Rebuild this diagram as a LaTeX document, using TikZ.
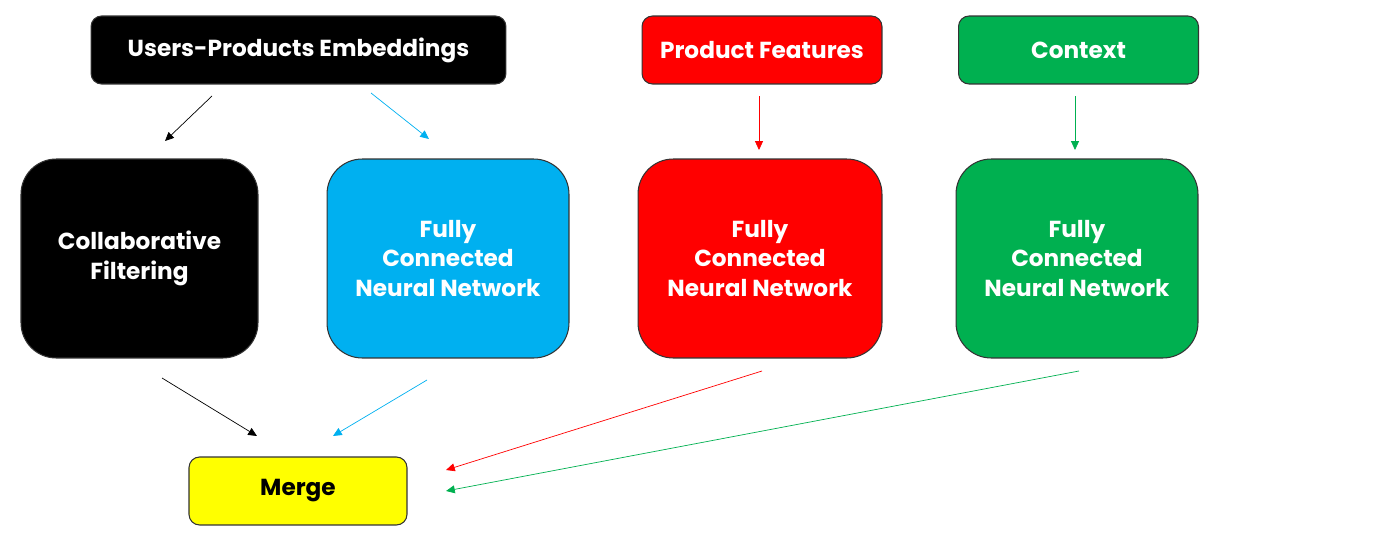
\documentclass[tikz,border=0pt]{standalone}
\usepackage{fontspec}
\setmainfont{Poppins}
\usepackage{xcolor}
\definecolor{cblue}{HTML}{00B0F0}
\definecolor{cred}{HTML}{FF0000}
\definecolor{cgreen}{HTML}{00B050}
\definecolor{cyellow}{HTML}{FFFF00}
\usetikzlibrary{arrows.meta}

\tikzset{
  box/.style={draw=black!80, line width=0.6pt, rounded corners=6pt, text=white,
    font=\fontsize{13.2}{17}\selectfont\bfseries, align=center, inner sep=0pt},
  topbox/.style={box, minimum height=1.36cm},
  bigbox/.style={box, minimum width=4.8cm, minimum height=3.98cm, rounded corners=20pt},
  arr/.style={-{Triangle[length=5pt,width=4.5pt]}, line width=0.4pt},
}

\begin{document}
\begin{tikzpicture}[x=0.02cm, y=-0.02cm]
		\useasboundingbox (0,0) rectangle (1400,541);
		\node [topbox, fill=black, minimum width=8.3cm] at (298.5,50) (emb) {Users-Products Embeddings};
		\node [topbox, fill=cred, minimum width=4.8cm] at (762,50) (feat) {Product Features};
		\node [topbox, fill=cgreen, minimum width=4.8cm] at (1078.5,50) (ctx) {Context};
		%
		\node [bigbox, fill=black, minimum width=4.74cm] at (139.5,258.5) (cf) {Collaborative\\Filtering};
		\node [bigbox, fill=cblue, minimum width=4.84cm] at (448,258.5) (fc1) {Fully\\Connected\\Neural Network};
		\node [bigbox, fill=cred, minimum width=4.88cm] at (760,258.5) (fc2) {Fully\\Connected\\Neural Network};
		\node [bigbox, fill=cgreen, minimum width=4.84cm] at (1077,258.5) (fc3) {Fully\\Connected\\Neural Network};
		%
		\node [box, fill=cyellow, text=black, minimum width=4.36cm, minimum height=1.36cm] at (298,491) (merge) {Merge};
		%
		\coordinate (e1) at (212,96);
		\coordinate (e2) at (371,93);
		\coordinate (f1) at (759,96);
		\coordinate (c1) at (1075,96);
		\coordinate (t1) at (165,141);
		\coordinate (t2) at (429,139);
		\coordinate (t3) at (759,150);
		\coordinate (t4) at (1075,150);
		\coordinate (b1) at (162,378);
		\coordinate (b2) at (427,380);
		\coordinate (b3) at (762,371);
		\coordinate (b4) at (1079,371);
		\coordinate (m1) at (257,436);
		\coordinate (m2) at (333,436);
		\coordinate (m3) at (446,470);
		\coordinate (m4) at (446,491);
		%
		\draw [arr, black] (e1) -- (t1);
		\draw [arr, cblue] (e2) -- (t2);
		\draw [arr, cred] (f1) -- (t3);
		\draw [arr, cgreen] (c1) -- (t4);
		\draw [arr, black] (b1) -- (m1);
		\draw [arr, cblue] (b2) -- (m2);
		\draw [arr, cred] (b3) -- (m3);
		\draw [arr, cgreen] (b4) -- (m4);
\end{tikzpicture}
\end{document}
